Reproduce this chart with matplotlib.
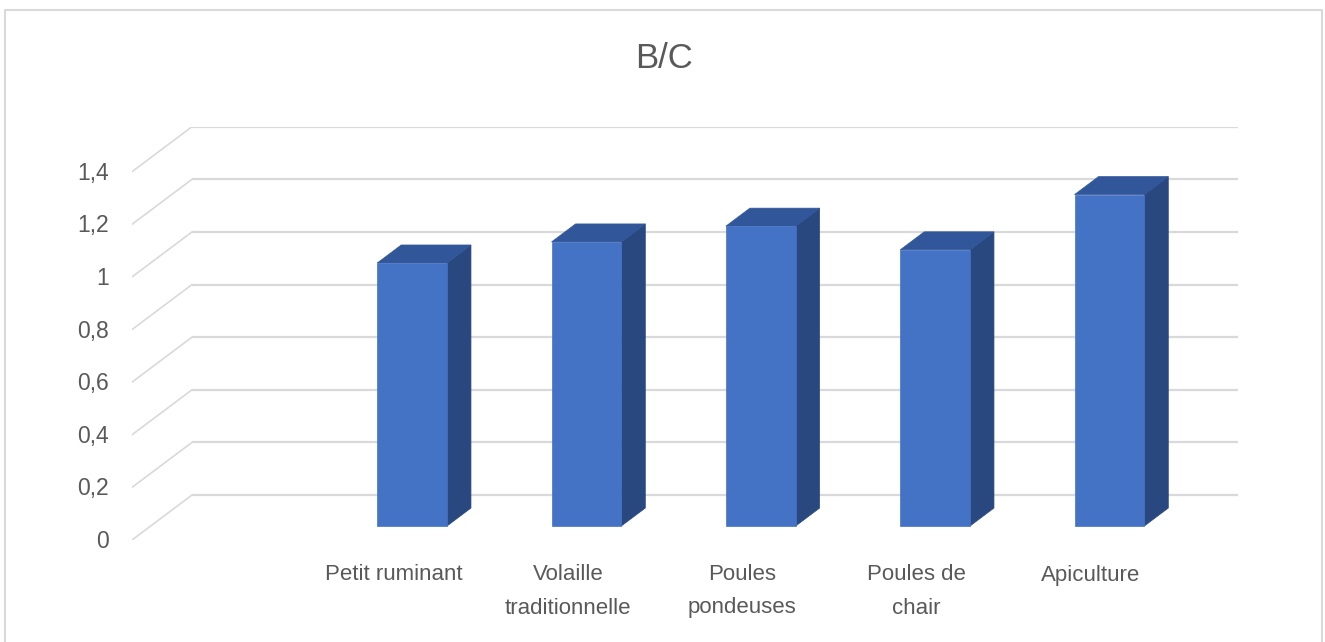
import math
import matplotlib
matplotlib.use("Agg")
import matplotlib.pyplot as plt
from matplotlib.patches import Polygon
from matplotlib.lines import Line2D

# ---- data ----
categories = ["", "Petit ruminant", "Volaille\ntraditionnelle", "Poules\npondeuses",
              "Poules de\nchair", "Apiculture"]
values = [None, 1.00, 1.08, 1.14, 1.05, 1.26]
y_ticks = [0, 0.2, 0.4, 0.6, 0.8, 1.0, 1.2, 1.4]
y_tick_labels = ["0", "0,2", "0,4", "0,6", "0,8", "1", "1,2", "1,4"]
title = "B/C"

# ---- style ----
FONT = ["Liberation Sans", "DejaVu Sans"]
TXT = "#595959"
GRID = "#d9d9d9"
FRONT = "#4472C4"
TOP = "#31569A"
SIDE = "#2A4880"

W, Hpx = 1325, 642
fig = plt.figure(figsize=(W / 100, Hpx / 100), dpi=100)
fig.patch.set_facecolor("white")

# axes: front plane x from 132px, floor at 540px; back wall top at 126.7px, right at 1238px
ax = fig.add_axes([132 / W, (Hpx - 540) / Hpx, (1238 - 132) / W, (540 - 126.7) / Hpx])
ax.set_axis_off()
n = len(categories)
slot_px = (1178 - 132) / n
D = 60 / slot_px          # depth offset in category units
ymax = y_ticks[-1]
unit_px = (540 - 171.7) / ymax
H = 45 / unit_px          # depth offset in value units
ax.set_xlim(-0.5, n - 0.5 + D)
ax.set_ylim(0, ymax + H)

# gridlines (back wall + side diagonals)
for v in y_ticks:
    ax.add_line(Line2D([-0.5 + D, n - 0.5 + D], [v + H, v + H], color=GRID, lw=1.6,
                       zorder=1, solid_capstyle="butt"))
    ax.add_line(Line2D([-0.5, -0.5 + D], [v, v + H], color=GRID, lw=1.2, zorder=1))

# 3D bars
bw = 0.4
f0, f1 = 0.31, 0.71
for i, v in enumerate(values):
    if v is None:
        continue
    x0 = i - bw / 2 + f0 * D
    x1 = i + bw / 2 + f0 * D
    yb = f0 * H
    yt = v + f0 * H
    ddx = (f1 - f0) * D
    ddy = (f1 - f0) * H
    front = Polygon([(x0, yb), (x1, yb), (x1, yt), (x0, yt)], closed=True,
                    facecolor=FRONT, edgecolor=FRONT, lw=0.5, zorder=3)
    top = Polygon([(x0, yt), (x1, yt), (x1 + ddx, yt + ddy), (x0 + ddx, yt + ddy)],
                  closed=True, facecolor=TOP, edgecolor=TOP, lw=0.5, zorder=3)
    side = Polygon([(x1, yb), (x1 + ddx, yb + ddy), (x1 + ddx, yt + ddy), (x1, yt)],
                   closed=True, facecolor=SIDE, edgecolor=SIDE, lw=0.5, zorder=3)
    for p in (side, top, front):
        ax.add_patch(p)

# y tick labels
for v, lab in zip(y_ticks, y_tick_labels):
    ax.annotate(lab, xy=(-0.5, v), xycoords="data", xytext=(-23, -1.5),
                textcoords="offset pixels", ha="right", va="center",
                fontsize=16.5, color=TXT, family=FONT, annotation_clip=False)

# category labels (front plane)
for i, lab in enumerate(categories):
    if not lab:
        continue
    for k, line in enumerate(lab.split("\n")):
        ax.annotate(line, xy=(i, 0), xycoords="data",
                    xytext=(0, -(575 - 540) - 33 * k), textcoords="offset pixels",
                    ha="center", va="center", fontsize=16, color=TXT, family=FONT,
                    annotation_clip=False)

# title
fig.text(664 / W, 1 - 59 / Hpx, title, ha="center", va="center", fontsize=25,
         color=TXT, family=FONT)

# outer frame (left, top, right)
fig.add_artist(Line2D([5 / W, 5 / W, 1322 / W, 1322 / W],
                      [0, 1 - 10 / Hpx, 1 - 10 / Hpx, 0],
                      transform=fig.transFigure, color=GRID, lw=1.5))

fig.savefig("out.png", dpi=100)
